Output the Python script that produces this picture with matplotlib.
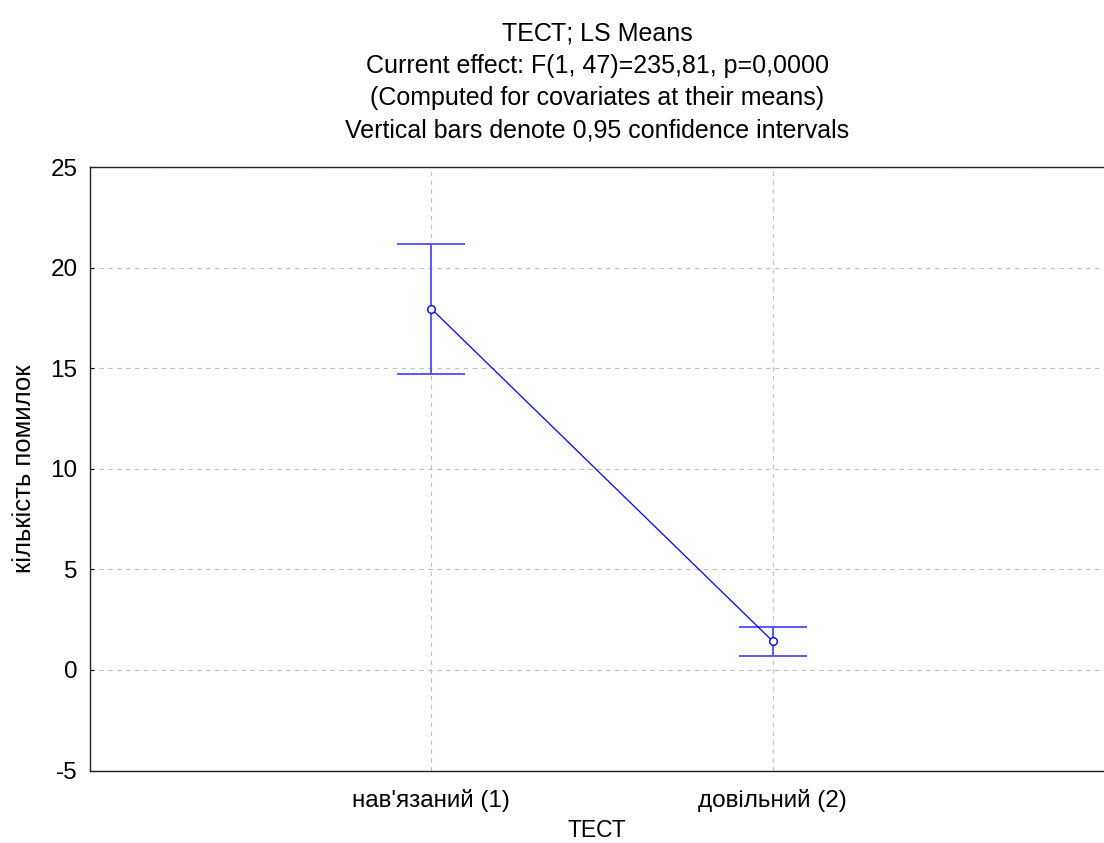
import numpy as np
import matplotlib.pyplot as plt

plt.rcParams['font.family'] = ['Liberation Sans', 'DejaVu Sans']
plt.rcParams['axes.unicode_minus'] = False

# values
categories = ["нав'язаний (1)", "довільний (2)"]
means = [17.95, 1.42]
ci_half = [3.22, 0.72]
yticks = [-5, 0, 5, 10, 15, 20, 25]

title_lines = [
    "ТЕСТ; LS Means",
    "Current effect: F(1, 47)=235,81, p=0,0000",
    "(Computed for covariates at their means)",
    "Vertical bars denote 0,95 confidence intervals",
]

fig = plt.figure(figsize=(11.04, 8.43), dpi=100)
ax = fig.add_axes([90 / 1104, (843 - 770.5) / 843, 1 - 90 / 1104, (770.5 - 167) / 843])

x = np.arange(len(categories))
ax.errorbar(x, means, yerr=ci_half, fmt='none', ecolor=(0.35, 0.35, 1.0),
            elinewidth=1.4, capsize=24.5, capthick=1.4, zorder=3)
ax.plot(x, means, color='#0000ff', lw=0.9, marker='o', ms=5.5,
        mfc='white', mec='#0000ff', mew=1.0, zorder=4)

ax.set_xlim(-1, 1.97)
ax.set_ylim(-5, 25)
ax.set_yticks(yticks)
ax.set_xticks(x)
ax.set_xticklabels(categories, fontsize=17.5)
ax.tick_params(axis='y', labelsize=17.5, direction='in', length=3, pad=9)
ax.tick_params(axis='x', direction='in', length=0, pad=13)

ax.grid(True, color='#c0c0c0', ls=(0, (4, 4)), lw=0.8)
ax.set_axisbelow(True)
ax.spines['right'].set_visible(False)
for s in ['left', 'top', 'bottom']:
    ax.spines[s].set_linewidth(1.0)
    ax.spines[s].set_color('#222222')

ax.set_xlabel("ТЕСТ", fontsize=16.5)
ax.xaxis.set_label_coords(0.5, -(819 - 770.5) / 603.5, transform=ax.transAxes)
ax.set_ylabel("кількість помилок", fontsize=18.5)
ax.yaxis.set_label_coords(-(90 - 36) / 1014, 0.5, transform=ax.transAxes)

for i, line in enumerate(title_lines):
    fig.text(597 / 1104, 1 - (33 + i * 32.5) / 843, line, ha='center', va='center',
             fontsize=18)

fig.savefig('out.png', dpi=100)
